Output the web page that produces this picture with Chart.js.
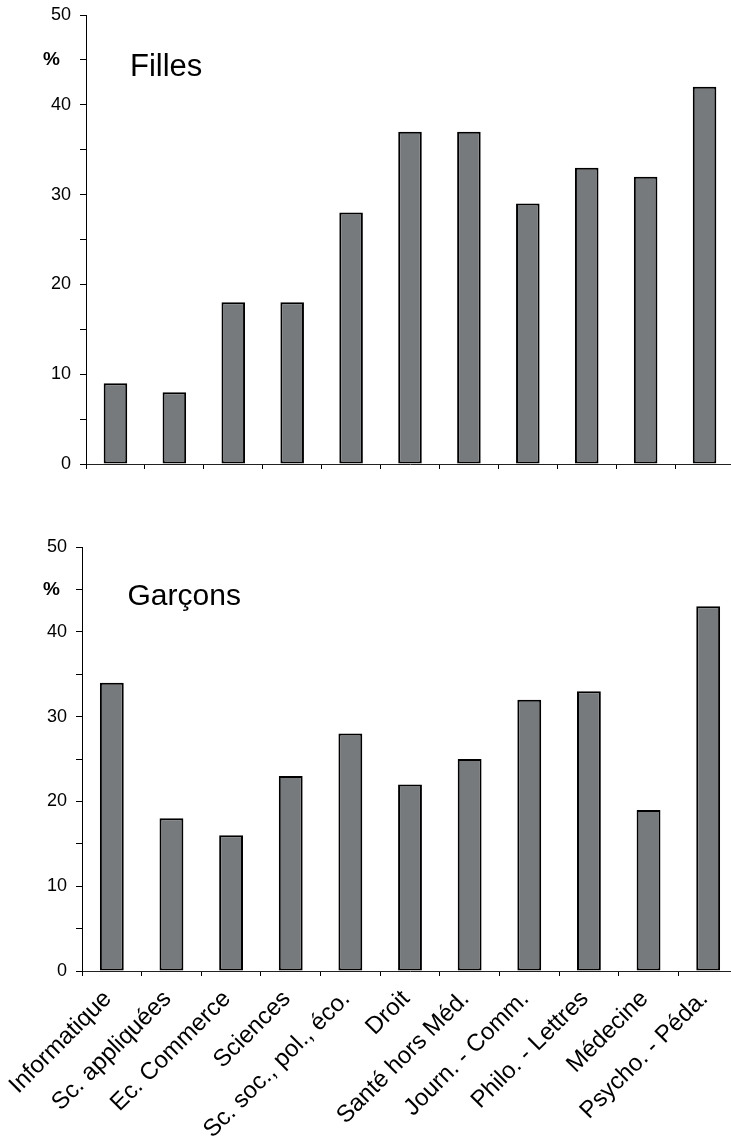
<!DOCTYPE html>
<html>
<head>
<meta charset="utf-8">
<script src="https://cdn.jsdelivr.net/npm/chart.js@4/dist/chart.umd.min.js"></script>
<style>
  html, body { margin: 0; padding: 0; width: 731px; height: 1136px; overflow: hidden; background: #fff; }
  canvas { position: absolute; left: 0; }
  #filles { top: 0; }
  #garcons { top: 500px; }
</style>
</head>
<body>
<canvas id="filles" width="734" height="500"></canvas>
<canvas id="garcons" width="738" height="636"></canvas>
<script>
// Filières d'études
const categories = [
  'Informatique', 'Sc. appliquées', 'Ec. Commerce', 'Sciences',
  'Sc. soc., pol., éco.', 'Droit', 'Santé hors Méd.', 'Journ. - Comm.',
  'Philo. - Lettres', 'Médecine', 'Psycho. - Péda.'
];

// Pourcentages par filière
const fillesValues  = [9, 8, 18, 18, 28, 37, 37, 29, 33, 32, 42];
const garconsValues = [34, 18, 16, 23, 28, 22, 25, 32, 33, 19, 43];

// Axe vertical : 0 à 50, graduations tous les 5, étiquettes tous les 10
const yMin = 0;
const yMax = 50;
const yStep = 5;
const yLabelEvery = 10;
const unitLabel = '%';
const unitAt = 45;

const FONT = '"Liberation Sans", Arial, Helvetica, sans-serif';

// Titre du panneau et unité de l'axe
const panelText = {
  id: 'panelText',
  afterDraw(chart, args, opts) {
    const { ctx, chartArea, scales } = chart;
    ctx.save();
    ctx.fillStyle = '#000';
    ctx.font = 'bold 19px ' + FONT;
    ctx.textAlign = 'center';
    ctx.textBaseline = 'middle';
    ctx.fillText(unitLabel, opts.unitX, scales.y.getPixelForValue(unitAt));
    ctx.font = opts.titleSize + 'px ' + FONT;
    ctx.textAlign = 'left';
    ctx.textBaseline = 'alphabetic';
    ctx.fillText(opts.title, chartArea.left + opts.titleDx, chartArea.top + opts.titleDy);
    ctx.restore();
  }
};

function makeChart(id, values, o) {
  return new Chart(document.getElementById(id), {
    type: 'bar',
    data: {
      labels: categories,
      datasets: [{
        data: values,
        backgroundColor: '#777a7d',
        borderColor: '#000',
        borderWidth: 2,
        borderSkipped: false,
        categoryPercentage: 1,
        barPercentage: 0.4
      }]
    },
    options: {
      responsive: false,
      animation: false,
      events: [],
      layout: { padding: { top: o.padTop, left: 0, right: 0, bottom: 0 } },
      plugins: {
        legend: { display: false },
        tooltip: { enabled: false },
        panelText: { title: o.title, titleSize: o.titleSize, titleDx: o.titleDx, titleDy: o.titleDy, unitX: o.unitX }
      },
      scales: {
        x: {
          offset: true,
          grid: { display: true, offset: true, drawOnChartArea: false, drawTicks: true, tickLength: 5, color: '#000', lineWidth: 1 },
          border: { display: true, color: '#222', width: 1 },
          ticks: {
            display: o.showLabels,
            autoSkip: false,
            minRotation: 45,
            maxRotation: 45,
            padding: 9,
            labelOffset: -4,
            color: '#000',
            font: { family: FONT, size: 24 }
          },
          afterFit: s => { s.height = o.xHeight; s.paddingLeft = 0; s.paddingRight = 0; }
        },
        y: {
          min: yMin,
          max: yMax,
          grid: { display: true, drawOnChartArea: false, drawTicks: true, tickLength: 6, color: '#000', lineWidth: 1 },
          border: { display: true, color: '#000', width: 1 },
          ticks: {
            stepSize: yStep,
            padding: 9,
            color: '#000',
            font: { family: FONT, size: 18 },
            callback: v => (v % yLabelEvery === 0 ? String(v) : '')
          },
          afterFit: s => { s.width = o.yWidth; s.paddingTop = 0; s.paddingBottom = 0; }
        }
      }
    },
    plugins: [panelText]
  });
}

makeChart('filles', fillesValues, {
  title: 'Filles', titleSize: 31, titleDx: 44, titleDy: 61, unitX: 51.5,
  padTop: 15, xHeight: 36, yWidth: 86, showLabels: false
});

makeChart('garcons', garconsValues, {
  title: 'Garçons', titleSize: 30, titleDx: 45.5, titleDy: 58, unitX: 51.5,
  padTop: 47, xHeight: 165, yWidth: 82, showLabels: true
});
</script>
</body>
</html>
